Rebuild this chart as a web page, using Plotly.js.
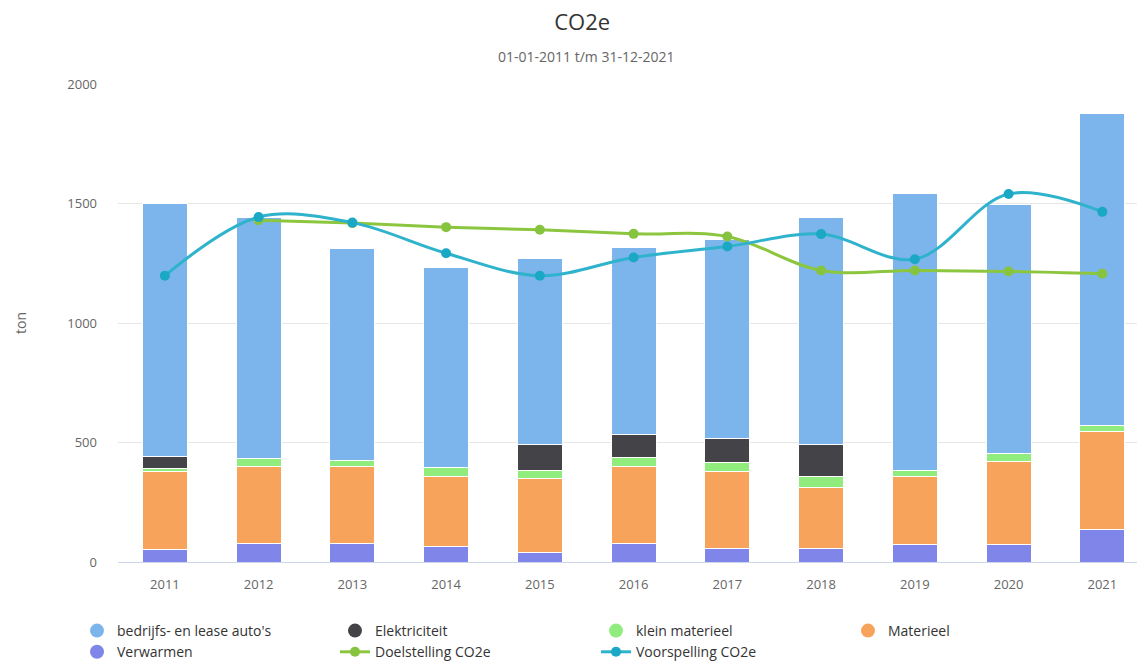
<!DOCTYPE html>
<html><head><meta charset="utf-8">
<script src="https://cdn.plot.ly/plotly-3.0.1.min.js"></script>
<style>html,body{margin:0;padding:0;background:#fff}#chart{width:1137px;height:664px}</style>
</head><body><div id="chart"></div>
<script>
const years = [2011, 2012, 2013, 2014, 2015, 2016, 2017, 2018, 2019, 2020, 2021];
const verwarmen = [52, 77, 77, 66, 41, 76, 55, 55, 73, 73, 136];
const materieel = [328, 321, 321, 293, 309, 322, 325, 255, 286, 346, 408];
const kleinMaterieel = [11, 34, 27, 35, 34, 40, 35, 46, 23, 33, 27];
const elektriciteit = [51, 0, 0, 0, 107, 95, 103, 135, 0, 0, 0];
const autos = [1057, 1008, 885, 840, 780, 782, 830, 952, 1158, 1042, 1307];
const doelstelling = [null, 1430, 1418, 1401, 1390, 1373, 1362, 1220, 1220, 1216, 1206];
const voorspelling = [1198, 1443, 1420, 1292, 1198, 1274, 1320, 1372, 1267, 1540, 1465];
const yTicks = [0, 500, 1000, 1500, 2000];

const barSeries = [
  {name: 'Verwarmen', y: verwarmen, color: '#8085e9', legend: 'legend', rank: 2},
  {name: 'Materieel', y: materieel, color: '#f7a35c', legend: 'legend4', rank: 1},
  {name: 'klein materieel', y: kleinMaterieel, color: '#90ed7d', legend: 'legend3', rank: 1},
  {name: 'Elektriciteit', y: elektriciteit, color: '#434348', legend: 'legend2', rank: 1},
  {name: "bedrijfs- en lease auto's", y: autos, color: '#7cb5ec', legend: 'legend', rank: 1}
];

const traces = [];
barSeries.forEach(s => {
  traces.push({
    type: 'bar', x: years, y: s.y, name: s.name, legendgroup: s.name,
    showlegend: false,
    marker: {color: s.color, line: {color: '#ffffff', width: 1}}
  });
  traces.push({
    type: 'scatter', mode: 'markers', x: [null], y: [null], name: s.name,
    legendgroup: s.name, legend: s.legend, legendrank: s.rank, showlegend: true,
    marker: {color: s.color, size: 14, symbol: 'circle'}
  });
});
traces.push({
  type: 'scatter', mode: 'lines+markers', x: years, y: doelstelling,
  name: 'Doelstelling CO2e', legend: 'legend2', legendrank: 2,
  line: {color: '#8cc63f', width: 3, shape: 'spline', smoothing: 1},
  marker: {color: '#86c440', size: 10}
});
traces.push({
  type: 'scatter', mode: 'lines+markers', x: years, y: voorspelling,
  name: 'Voorspelling CO2e', legend: 'legend3', legendrank: 2,
  line: {color: '#2fb3cc', width: 3, shape: 'spline', smoothing: 1},
  marker: {color: '#1aa8c4', size: 10}
});

function legendAt(left) {
  return {
    orientation: 'v', xref: 'container', yref: 'container',
    x: left / 1137, xanchor: 'left', y: 1 - 615 / 664, yanchor: 'top',
    traceorder: 'normal', font: {size: 14, color: '#333'},
    bgcolor: 'rgba(0,0,0,0)', tracegroupgap: 0, itemclick: false
  };
}

const layout = {
  width: 1137, height: 664,
  paper_bgcolor: '#fff', plot_bgcolor: '#fff',
  font: {family: 'Open Sans, sans-serif', color: '#666'},
  margin: {l: 118, r: 0, t: 84, b: 101.5, autoexpand: false},
  barmode: 'stack', bargap: 0.52,
  title: {text: 'CO2e', font: {size: 22, color: '#333'}, x: 0.512, xref: 'container', xanchor: 'center', y: 1 - 22 / 664, yref: 'container', yanchor: 'middle'},
  annotations: [{
    text: '01-01-2011 t/m 31-12-2021', xref: 'paper', yref: 'paper',
    x: (586 - 118) / 1019, y: (562.5 - 56) / 478.5, xanchor: 'center', yanchor: 'middle',
    showarrow: false, font: {size: 14, color: '#666'}
  }, {
    text: 'ton', xref: 'paper', yref: 'paper', textangle: -90,
    x: (20 - 118) / 1019, y: 0.5, xanchor: 'center', yanchor: 'middle',
    showarrow: false, font: {size: 14, color: '#666'}
  }],
  xaxis: {
    range: [2010.5, 2021.37], tickvals: years, ticktext: years.map(String),
    ticks: '', showline: true, linecolor: '#ccd6eb', linewidth: 1,
    showgrid: false, zeroline: false, tickfont: {size: 13, color: '#666'},
    ticklabelstandoff: 10, fixedrange: true, automargin: false, tickangle: 0
  },
  yaxis: {
    range: [0, 2000], tickvals: yTicks, ticktext: yTicks.map(String),
    ticks: '', showline: false, gridcolor: '#e6e6e6', zeroline: false,
    tickfont: {size: 13, color: '#666'}, ticklabelstandoff: 20,
    automargin: false, fixedrange: true
  },
  legend: legendAt(77),
  legend2: legendAt(335),
  legend3: legendAt(596),
  legend4: legendAt(848),
  showlegend: true
};

Plotly.newPlot('chart', traces, layout, {displayModeBar: false, staticPlot: true});
</script>
</body></html>
